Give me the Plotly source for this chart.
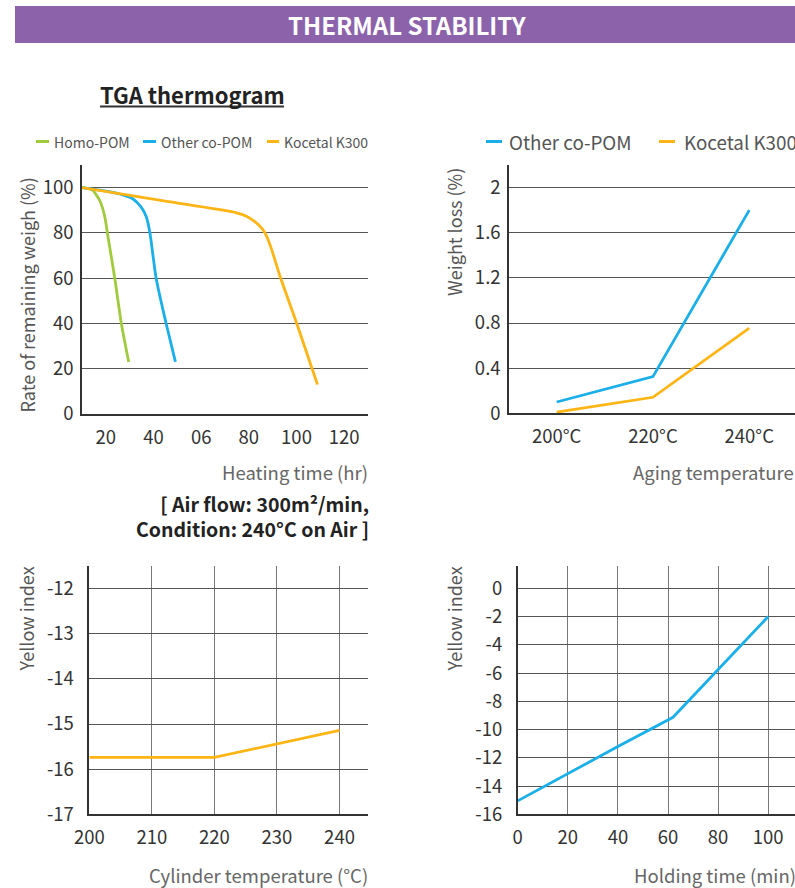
import plotly.graph_objects as go

W, H = 795, 888
FONT = "Noto Sans CJK KR, Noto Sans, sans-serif"

# ---------------- data ----------------
# TGA thermogram (heating time hr -> remaining weight %)
homo_x = [10, 13, 14.7, 17.5, 19.6, 20.8, 23.75, 26.5, 29.6]
homo_y = [100, 99.5, 98.6, 94.2, 87, 79, 60, 40, 23]
other_x = [10, 20, 25.8, 31.4, 34.9, 37, 38.5, 41.1, 45.3, 49.2]
other_y = [100, 98.5, 97.2, 95, 91.3, 87, 80, 60, 40, 23]
k300_x = [10, 45, 74.4, 79, 82.5, 85.5, 87.5, 89.3, 93.2, 100.1, 108.8]
k300_y = [100, 94, 89, 87.4, 85, 82, 78.5, 73.5, 60.5, 40, 13]
tga_xticks = [20, 40, 60, 80, 100, 120]
tga_xticktext = ["20", "40", "06", "80", "100", "120"]
tga_yticks = [0, 20, 40, 60, 80, 100]

# Weight loss vs aging temperature
aging_temp = ["200°C", "220°C", "240°C"]
loss_other = [0.1, 0.325, 1.8]
loss_k300 = [0.01, 0.142, 0.755]
loss_yticks = [0, 0.4, 0.8, 1.2, 1.6, 2]
loss_yticktext = ["0", "0.4", "0.8", "1.2", "1.6", "2"]

# Yellow index vs cylinder temperature
cyl_temp = [200, 220, 240]
yi_cyl = [-15.74, -15.74, -15.14]
cyl_xticks = [200, 210, 220, 230, 240]
cyl_yticks = [-17, -16, -15, -14, -13, -12]
cyl_yticktext = ["-17", "-16", "-15", "-14", "-13", "-12"]

# Yellow index vs holding time
hold_time = [0, 20, 40, 62, 80, 100]
yi_hold = [-15.05, -13.1, -11.2, -9.13, -5.78, -2.0]
hold_xticks = [0, 20, 40, 60, 80, 100]
hold_yticks = [-16, -14, -12, -10, -8, -6, -4, -2, 0]
hold_yticktext = ["-16", "-14", "-12", "-10", "-8", "-6", "-4", "-2", "0"]

GREEN = "#A1CB3C"
BLUE = "#1AAFE8"
ORANGE = "#FDB515"
PURPLE = "#8C62AA"


def px(x):
    return x / W


def py(y):
    return 1 - y / H


fig = go.Figure()

lw = 2.8
sm = 0.6
fig.add_trace(go.Scatter(x=homo_x, y=homo_y, mode="lines", line=dict(color=GREEN, width=lw, shape="spline", smoothing=sm), xaxis="x", yaxis="y", showlegend=False))
fig.add_trace(go.Scatter(x=other_x, y=other_y, mode="lines", line=dict(color=BLUE, width=lw, shape="spline", smoothing=sm), xaxis="x", yaxis="y", showlegend=False))
fig.add_trace(go.Scatter(x=k300_x, y=k300_y, mode="lines", line=dict(color=ORANGE, width=lw, shape="spline", smoothing=sm), xaxis="x", yaxis="y", showlegend=False))

fig.add_trace(go.Scatter(x=aging_temp, y=loss_other, mode="lines", line=dict(color=BLUE, width=lw), xaxis="x2", yaxis="y2", showlegend=False))
fig.add_trace(go.Scatter(x=aging_temp, y=loss_k300, mode="lines", line=dict(color=ORANGE, width=lw), xaxis="x2", yaxis="y2", showlegend=False))

fig.add_trace(go.Scatter(x=cyl_temp, y=yi_cyl, mode="lines", line=dict(color=ORANGE, width=lw), xaxis="x3", yaxis="y3", showlegend=False))
fig.add_trace(go.Scatter(x=hold_time, y=yi_hold, mode="lines", line=dict(color=BLUE, width=lw), xaxis="x4", yaxis="y4", showlegend=False))

tickfont = dict(family=FONT, size=18.5, color="#333")
common = dict(showline=True, linecolor="#333", linewidth=1.5, zeroline=False, ticks="",
              tickfont=tickfont, gridcolor="#555", gridwidth=1, fixedrange=True, automargin=False)
vgrid = "#777"

fig.update_layout(
    template="none",
    width=W, height=H, margin=dict(l=0, r=0, t=0, b=0, pad=0, autoexpand=False),
    paper_bgcolor="white", plot_bgcolor="white",
    font=dict(family=FONT),
    xaxis=dict(common, domain=[px(82), px(368)], range=[10, 130], anchor="y", showgrid=False,
               tickvals=tga_xticks, ticktext=tga_xticktext, ticklabelstandoff=6),
    yaxis=dict(common, domain=[py(414), py(165)], range=[0, 110], anchor="x", showgrid=True,
               tickvals=tga_yticks, ticklabelstandoff=3),
    xaxis2=dict(common, domain=[px(509), 1.0], range=[-0.495, 2.475], anchor="y2", type="category", showgrid=False,
                ticklabelstandoff=6),
    yaxis2=dict(common, domain=[py(413.3), py(165)], range=[0, 2.2], anchor="x2", showgrid=True,
                tickvals=loss_yticks, ticktext=loss_yticktext, ticklabelstandoff=3),
    xaxis3=dict(common, domain=[px(89.3), px(368.3)], range=[200, 244.6], anchor="y3", showgrid=True,
                gridcolor=vgrid, tickvals=cyl_xticks, ticklabelstandoff=6),
    yaxis3=dict(common, domain=[py(814.3), py(566)], range=[-17, -11.5], anchor="x3", showgrid=True,
                tickvals=cyl_yticks, ticktext=cyl_yticktext, ticklabelstandoff=10),
    xaxis4=dict(common, domain=[px(517.7), 1.0], range=[0, 110.7], anchor="y4", showgrid=True,
                gridcolor=vgrid, tickvals=hold_xticks, ticklabelstandoff=6),
    yaxis4=dict(common, domain=[py(814.3), py(566)], range=[-16, 1.58], anchor="x4", showgrid=True,
                tickvals=hold_yticks, ticktext=hold_yticktext, ticklabelstandoff=10),
)

shapes = []
# header bar
shapes.append(dict(type="rect", xref="paper", yref="paper", x0=px(15), x1=1.0, y0=py(43), y1=py(6),
                   fillcolor=PURPLE, line=dict(width=0), layer="below"))
# underline of TGA title
shapes.append(dict(type="line", xref="paper", yref="paper", x0=px(100), x1=px(284), y0=py(106.5), y1=py(106.5),
                   line=dict(color="#333", width=2)))

# legend swatches
def swatch(x0, x1, y, color):
    shapes.append(dict(type="line", xref="paper", yref="paper", x0=px(x0), x1=px(x1), y0=py(y), y1=py(y),
                       line=dict(color=color, width=3)))

swatch(36, 49, 141.5, GREEN)
swatch(143, 156, 141.5, BLUE)
swatch(267, 279, 141.5, ORANGE)
swatch(486, 502, 141.5, BLUE)
swatch(659, 675, 141.5, ORANGE)

ann = []

def text(x, y, s, size, color, xanchor="left", yanchor="middle", bold=False, angle=0, align="left"):
    ann.append(dict(xref="paper", yref="paper", x=px(x), y=py(y), text=s, showarrow=False,
                    xanchor=xanchor, yanchor=yanchor, textangle=angle, align=align, borderpad=0,
                    font=dict(family=FONT, size=size, color=color, weight=700 if bold else 400)))

text(407, 25, "THERMAL STABILITY", 24, "white", xanchor="center", bold=True)
text(192, 94, "TGA thermogram", 22, "#222", xanchor="center", bold=True)

# legends
text(53, 141.5, "Homo-POM", 14, "#555")
text(160, 141.5, "Other co-POM", 14, "#555")
text(283, 141.5, "Kocetal K300", 14, "#555")
text(508, 141.5, "Other co-POM", 18.8, "#555")
text(683, 141.5, "Kocetal K300", 18.8, "#555")

# axis titles
text(26, 177, "Rate of remaining weigh (%)", 18, "#555", xanchor="center", yanchor="top", angle=-90)
text(454, 167, "Weight loss (%)", 18, "#555", xanchor="center", yanchor="top", angle=-90)
text(25, 566, "Yellow index", 18, "#555", xanchor="center", yanchor="top", angle=-90)
text(453, 566, "Yellow index", 18, "#555", xanchor="center", yanchor="top", angle=-90)

text(369, 472, "Heating time (hr)", 18.5, "#666", xanchor="right")
text(632, 472, "Aging temperature (°C)", 18.5, "#666")
text(369, 875, "Cylinder temperature (°C)", 18.5, "#666", xanchor="right")
text(797, 875, "Holding time (min)", 18.5, "#666", xanchor="right")

text(370, 516, "[ Air flow: 300m²/min,<br>Condition: 240°C on Air ]", 19.5, "#222",
     xanchor="right", bold=True, align="right")

fig.update_layout(shapes=shapes, annotations=ann)

fig.write_html("out.html", config={"displayModeBar": False},
               post_script="document.body.style.margin='0px';document.body.style.overflow='hidden';")
